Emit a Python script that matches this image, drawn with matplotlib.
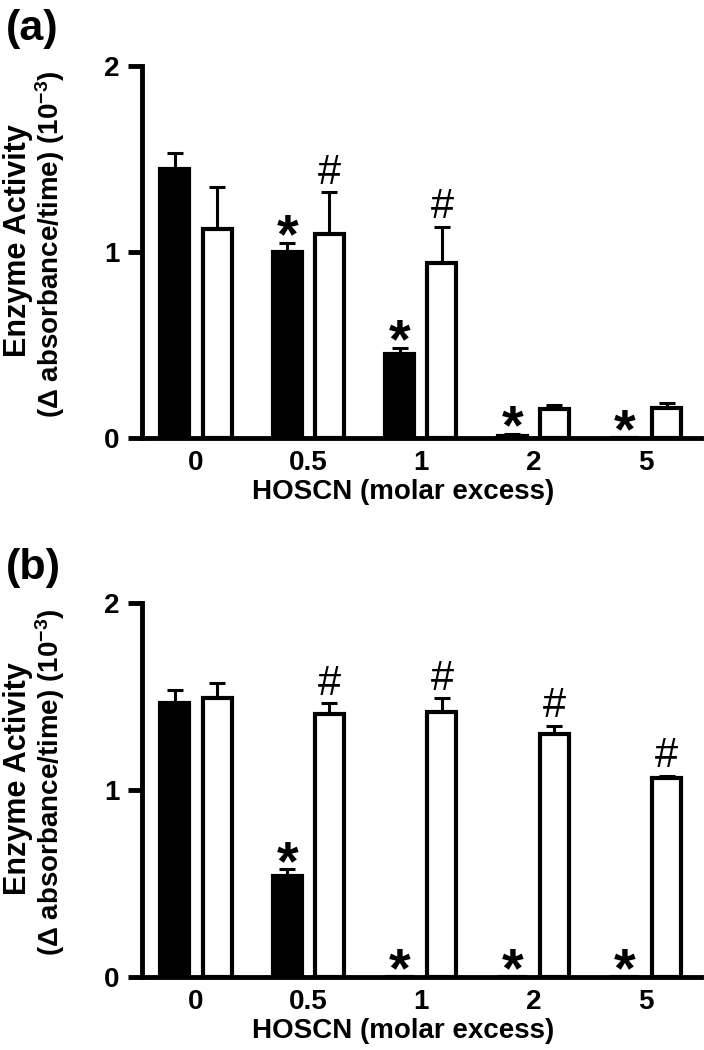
import numpy as np
import matplotlib
matplotlib.use("Agg")
import matplotlib.pyplot as plt

plt.rcParams['font.family'] = ['Liberation Sans', 'DejaVu Sans']
plt.rcParams['font.weight'] = 'bold'
plt.rcParams['mathtext.fontset'] = 'custom'
plt.rcParams['mathtext.rm'] = 'Liberation Sans:bold'
plt.rcParams['mathtext.default'] = 'rm'

# data
doses = ['0', '0.5', '1', '2', '5']

ctrl_a = [1.446, 1.00, 0.45, 0.012, 0.0]
ctrl_a_err = [0.085, 0.048, 0.035, 0.010, 0.0]
treat_a = [1.124, 1.097, 0.94, 0.156, 0.16]
treat_a_err = [0.227, 0.226, 0.196, 0.021, 0.03]
star_a = [False, True, True, True, True]
hash_a = [False, True, True, False, False]

ctrl_b = [1.462, 0.538, 0.0, 0.0, 0.0]
ctrl_b_err = [0.071, 0.036, 0.0, 0.0, 0.0]
treat_b = [1.489, 1.403, 1.417, 1.30, 1.061]
treat_b_err = [0.080, 0.059, 0.072, 0.042, 0.014]
star_b = [False, True, True, True, True]
hash_b = [False, True, True, True, True]

x = np.arange(len(doses))
off = 0.187
w = 0.258

fig = plt.figure(figsize=(7.04, 10.5), dpi=100)


def panel(rect, ctrl, ctrl_err, treat, treat_err, stars, hashes, tag, tag_y):
    ax = fig.add_axes(rect)
    ax.bar(x - off, ctrl, w, color='black', edgecolor='black', linewidth=3, zorder=2)
    ax.bar(x + off, treat, w, color='white', edgecolor='black', linewidth=3, zorder=2)
    zeros = np.zeros(len(x))
    ax.errorbar(x - off, ctrl, yerr=[zeros, ctrl_err], fmt='none', ecolor='black',
                elinewidth=2.2, capsize=6, capthick=2.2, zorder=1)
    ax.errorbar(x + off, treat, yerr=[zeros, treat_err], fmt='none', ecolor='black',
                elinewidth=2.2, capsize=6, capthick=2.2, zorder=1)
    for i in range(len(x)):
        if stars[i]:
            ax.annotate('*', (x[i] - off, ctrl[i] + ctrl_err[i]), xytext=(0, -7),
                        textcoords='offset points', ha='center', va='baseline',
                        fontsize=40, fontweight='bold')
        if hashes[i]:
            ax.annotate('#', (x[i] + off, treat[i] + treat_err[i]), xytext=(0, 6),
                        textcoords='offset points', ha='center', va='baseline',
                        fontsize=30, fontweight='normal')
    ax.set_xlim(-0.48, 4.49)
    ax.set_ylim(0, 2)
    ax.set_yticks([0, 1, 2])
    ax.set_xticks(x)
    ax.set_xticklabels(doses)
    ax.tick_params(axis='y', length=10, width=3.5, labelsize=20, pad=6)
    ax.tick_params(axis='x', length=0, labelsize=20, pad=9)
    for s in ['top', 'right']:
        ax.spines[s].set_visible(False)
    for s in ['left', 'bottom']:
        ax.spines[s].set_linewidth(3.5)
    ax.set_xlabel('HOSCN (molar excess)', fontsize=20, fontweight='bold')
    ax.xaxis.set_label_coords(0.467, -0.11)
    ax.xaxis.label.set_va('top')
    ax.text(-0.222, 0.53, 'Enzyme Activity', transform=ax.transAxes, rotation=90,
            rotation_mode='anchor', ha='center', va='center', fontsize=22,
            fontweight='bold')
    ax.text(-0.164, 0.52, '(\u0394 absorbance/time) (10$^{-3}$)', transform=ax.transAxes,
            rotation=90, rotation_mode='anchor', ha='center', va='center',
            fontsize=20, fontweight='bold')
    ax.text(-0.243, tag_y, tag, transform=ax.transAxes, fontsize=31,
            fontweight='bold', ha='left', va='bottom')
    return ax


panel([0.2017, 0.5829, 0.794, 0.3543], ctrl_a, ctrl_a_err, treat_a, treat_a_err,
      star_a, hash_a, '(a)', 1.045)
panel([0.2017, 0.0698, 0.794, 0.3562], ctrl_b, ctrl_b_err, treat_b, treat_b_err,
      star_b, hash_b, '(b)', 1.04)

fig.savefig('out.png', dpi=100)
